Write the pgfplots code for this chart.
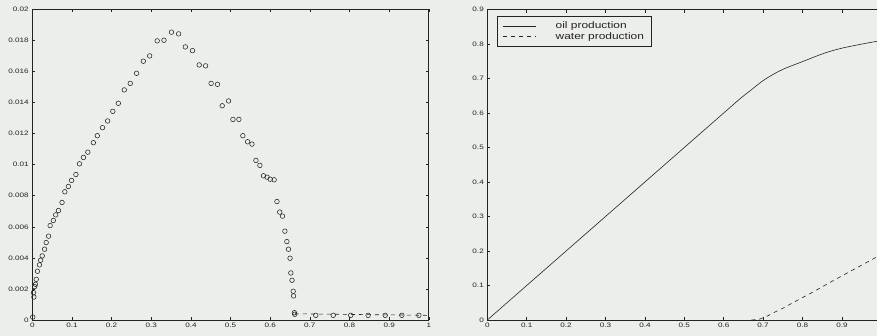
\documentclass[border=0pt]{standalone}
\usepackage{fontspec}
\setmainfont{Liberation Sans}[FakeStretch=1.27]
\usepackage{pgfplots}
\pgfplotsset{compat=1.18}
\definecolor{bg}{RGB}{236,238,235}
\definecolor{ink}{RGB}{35,35,35}
\begin{document}
\begin{tikzpicture}[x=1pt,y=1pt]
\fill[bg] (0,0) rectangle (877,336);
\pgfplotsset{every axis/.append style={
  scale only axis, anchor=south west, clip=false,
  axis line style={ink, line width=0.8pt},
  tick style={ink, line width=0.6pt},
  major tick length=3pt, tick align=inside,
  ticklabel style={font=\fontsize{6.4}{7}\selectfont, text=ink},
  scaled ticks=false,
  /pgf/number format/fixed, /pgf/number format/precision=3,
  /pgf/number format/assume math mode=true,
  xmin=0, xmax=1,
  xtick={0,0.1,0.2,0.3,0.4,0.5,0.6,0.7,0.8,0.9,1},
}}
\begin{axis}[at={(32.3pt,16pt)}, width=396.5pt, height=310.5pt,
  ymin=0, ymax=0.02,
  ytick={0,0.002,0.004,0.006,0.008,0.01,0.012,0.014,0.016,0.018,0.02}]
\addplot[only marks, mark=o, mark size=2.3pt, ink, mark options={line width=0.55pt}] coordinates {
(0.001,0.00019) (0.003,0.00176) (0.004,0.00148) (0.006,0.00215) (0.008,0.00230)
(0.010,0.00262) (0.013,0.00314) (0.018,0.00355) (0.021,0.00385) (0.025,0.00413)
(0.031,0.00456) (0.035,0.00499) (0.041,0.00540) (0.045,0.00608) (0.053,0.00641)
(0.059,0.00677) (0.066,0.00705) (0.075,0.00757) (0.082,0.00826) (0.091,0.00860)
(0.099,0.00899) (0.110,0.00937) (0.119,0.01006) (0.129,0.01047) (0.140,0.01081)
(0.154,0.01142) (0.164,0.01187) (0.177,0.01239) (0.190,0.01282) (0.203,0.01344)
(0.217,0.01396) (0.232,0.01482) (0.247,0.01524) (0.263,0.01589) (0.280,0.01667)
(0.296,0.01701) (0.315,0.01798) (0.332,0.01802) (0.351,0.01854) (0.369,0.01843)
(0.386,0.01759) (0.404,0.01735) (0.421,0.01643) (0.437,0.01637) (0.451,0.01524)
(0.467,0.01518) (0.479,0.01380) (0.495,0.01411) (0.506,0.01292) (0.521,0.01292)
(0.531,0.01187) (0.543,0.01148) (0.554,0.01133) (0.564,0.01028) (0.574,0.00996)
(0.583,0.00929) (0.592,0.00920) (0.600,0.00907) (0.610,0.00903) (0.617,0.00763)
(0.624,0.00695) (0.631,0.00669) (0.637,0.00572) (0.642,0.00505) (0.646,0.00456)
(0.650,0.00398) (0.652,0.00303) (0.655,0.00256) (0.658,0.00185) (0.659,0.00155)
(0.661,0.00047) (0.662,0.00037) (0.715,0.0003) (0.759,0.0003) (0.803,0.0003)
(0.847,0.0003) (0.890,0.0003) (0.932,0.0003) (0.975,0.0003)};
\addplot[ink, line width=0.6pt, dash pattern=on 4pt off 4pt] coordinates {(0.662,0.0004) (1,0.0003)};
\end{axis}
\begin{axis}[at={(487.3pt,16pt)}, width=394pt, height=310.5pt,
  ymin=0, ymax=0.9,
  ytick={0,0.1,0.2,0.3,0.4,0.5,0.6,0.7,0.8,0.9},
  xticklabels={0,0.1,0.2,0.3,0.4,0.5,0.6,0.7,0.8,0.9,},
  legend cell align=left,
  legend image code/.code={\draw[#1] (0pt,0pt) -- (33pt,0pt);},
  legend style={at={(axis description cs:0,1)}, anchor=north west,
    xshift=9.5pt, yshift=-6.5pt, draw=ink, line width=0.6pt, fill=none,
    inner xsep=6pt, inner ysep=4.5pt, row sep=0pt,
    font=\fontsize{9.4}{10}\selectfont, text=ink,
    nodes={inner sep=1pt, text height=6.6pt, text depth=2pt},
    /tikz/every odd column/.append style={column sep=18pt}}]
\addplot[ink, line width=0.6pt] coordinates {
(0,0) (0.64,0.64) (0.655,0.654) (0.67,0.667) (0.685,0.681) (0.70,0.694)
(0.715,0.705) (0.735,0.718) (0.755,0.729) (0.777,0.739) (0.80,0.749)
(0.82,0.758) (0.84,0.767) (0.862,0.776) (0.883,0.783) (0.904,0.789)
(0.925,0.794) (0.947,0.799) (0.97,0.804) (1.0,0.81)};
\addlegendentry{oil production}
\addplot[ink, line width=0.6pt, dash pattern=on 4pt off 4pt] coordinates {
(0.67,0) (0.69,0.002) (0.71,0.011) (0.73,0.023) (0.755,0.037) (0.777,0.051)
(0.82,0.077) (0.862,0.104) (0.905,0.131) (0.947,0.157) (1.0,0.19)};
\addlegendentry{water production}
\end{axis}
\pgfresetboundingbox
\useasboundingbox (0,0) rectangle (877,336);
\end{tikzpicture}
\end{document}
